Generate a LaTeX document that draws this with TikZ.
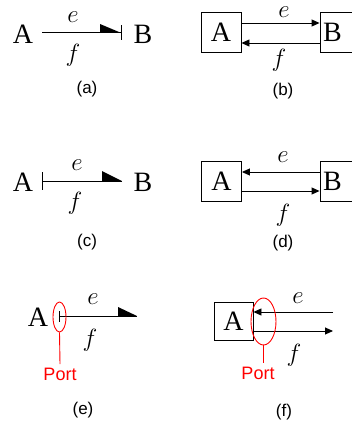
\documentclass[tikz,border=0pt]{standalone}
\usepackage{fontspec}
\setmainfont{Liberation Serif}
\newfontfamily\labfont{Liberation Sans}
\usetikzlibrary{arrows.meta,shapes.geometric}
\begin{document}
\begin{tikzpicture}[x=1pt,y=-1pt,
  lbl/.style={font=\labfont\fontsize{17}{20}\selectfont, inner sep=0pt},
  letter/.style={font=\fontsize{28}{32}\selectfont, inner sep=0pt},
  var/.style={font=\fontsize{26}{30}\selectfont, inner sep=0pt, execute at begin node=$, execute at end node=$},
  box/.style={draw, line width=0.9pt, minimum width=40pt, minimum height=40pt,
              font=\fontsize{28}{32}\selectfont, inner sep=0pt},
  bond/.style={line width=0.9pt},
  sig/.style={line width=0.9pt, -{Triangle[length=8pt,width=7pt]}},
  portring/.style={draw=red, line width=0.9pt, ellipse, inner sep=0pt},
  portline/.style={draw=red, line width=0.9pt},
  porttext/.style={text=red, font=\labfont\fontsize{18}{21}\selectfont}
]
\useasboundingbox (0,0) rectangle (352,423);

% ---------- (a)
\node[letter] (Aa) at (23,34) {A};
\node[letter] (Ba) at (143,34) {B};
\coordinate (a1) at (42,32);
\coordinate (a2) at (121,32);
\draw[bond] (a1) -- (a2);
\draw[bond] (121,25) -- (121,40);
\fill (100,24) -- (100,32) -- (119,32) -- cycle;
\node[var] (ea) at (73,17) {e};
\node[var] (fa) at (73,55) {f};
\node[lbl] (la) at (87,89) {(a)};

% ---------- (b)
\node[box] (Ab) at (221,32.5) {A};
\node[box, minimum width=32pt] (Bb) at (336,32.5) {\makebox[32pt][l]{\hspace{3pt}B}};
\draw[sig] ([yshift=9.5pt]Ab.east) -- ([yshift=9.5pt]Bb.west);
\draw[sig] ([yshift=-10.5pt]Bb.west) -- ([yshift=-10.5pt]Ab.east);
\node[var] (eb) at (284,12) {e};
\node[var] (fb) at (279,60) {f};
\node[lbl] (lb) at (283,91) {(b)};

% ---------- (c)
\node[letter] (Ac) at (23,182) {A};
\node[letter] (Bc) at (143,182) {B};
\coordinate (c1) at (42,181);
\coordinate (c2) at (122,181);
\draw[bond] (c1) -- (c2);
\draw[bond] (42,172) -- (42,190);
\fill (102,171) -- (102,181) -- (122,181) -- cycle;
\node[var] (ec) at (77,165) {e};
\node[var] (fc) at (75,203) {f};
\node[lbl] (lc) at (87,242) {(c)};

% ---------- (d)
\node[box] (Ad) at (221.5,181.5) {A};
\node[box, minimum width=32pt] (Bd) at (336,181.5) {\makebox[32pt][l]{\hspace{3pt}B}};
\draw[sig] ([yshift=9.5pt]Bd.west) -- ([yshift=9.5pt]Ad.east);
\draw[sig] ([yshift=-9.5pt]Ad.east) -- ([yshift=-9.5pt]Bd.west);
\node[var] (ed) at (283,157) {e};
\node[var] (fd) at (283,215) {f};
\node[lbl] (ld) at (283,243) {(d)};

% ---------- (e)
\node[letter] (Ae) at (38,317) {A};
\coordinate (e1) at (59,316);
\coordinate (e2) at (137,316);
\draw[bond] (e1) -- (e2);
\draw[bond] (59,311) -- (59,322);
\fill (118,307) -- (118,316) -- (137,316) -- cycle;
\node[var] (ee) at (93,299) {e};
\node[var] (fe) at (90,340) {f};
\node[portring, minimum width=13pt, minimum height=30pt] (pe) at (59.5,317) {};
\node[porttext] (te) at (60,374) {Port};
\draw[portline] (pe.south) -- (te.north);
\node[lbl] (le) at (83,410) {(e)};

% ---------- (f)
\node[box, minimum width=39pt, minimum height=38pt] (Af) at (233.5,321) {A};
\coordinate (f1) at (333,312);
\coordinate (f2) at (333,331);
\draw[sig] (f1) -- (Af.east |- f1);
\draw[sig] (Af.east |- f2) -- (f2);
\node[var] (ef) at (298,298) {e};
\node[var] (ff) at (294,355) {f};
\node[portring, minimum width=25pt, minimum height=47pt] (pf) at (263.5,321.5) {};
\node[porttext] (tf) at (258,373) {Port};
\draw[portline] (pf.south) -- (pf.south |- tf.north);
\node[lbl] (lf) at (284,412) {(f)};
\end{tikzpicture}
\end{document}
